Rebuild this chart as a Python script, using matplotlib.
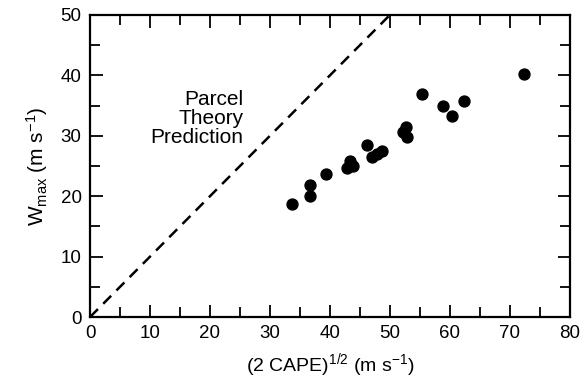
import numpy as np
import matplotlib
matplotlib.use("Agg")
import matplotlib.pyplot as plt
from matplotlib.ticker import MultipleLocator

plt.rcParams['font.family'] = ['Liberation Sans', 'DejaVu Sans']
plt.rcParams['mathtext.default'] = 'regular'

# data
cape_speed = [72.4, 55.4, 58.8, 60.3, 62.3, 52.6, 52.2, 52.9, 46.1, 47.0,
              47.8, 48.7, 43.4, 43.9, 42.8, 39.4, 36.7, 36.7, 33.7]
w_max = [40.2, 36.9, 35.0, 33.3, 35.8, 31.4, 30.7, 29.8, 28.4, 26.5,
         26.9, 27.5, 25.8, 25.0, 24.6, 23.7, 21.9, 20.1, 18.7]
parcel_line = [0, 50]

fig = plt.figure(figsize=(5.86, 3.82), dpi=100)
ax = fig.add_axes([0.1536, 0.170, 0.819, 0.791])

ax.plot(parcel_line, parcel_line, 'k--', linewidth=1.8, dashes=(4.5, 3))
ax.scatter(cape_speed, w_max, s=62, color='black', zorder=3)

ax.text(25.6, 32.9, 'Parcel\nTheory\nPrediction', ha='right', va='center',
        multialignment='right', fontsize=15, linespacing=1.0)

ax.set_xlim(0, 80)
ax.set_ylim(0, 50)
ax.xaxis.set_major_locator(MultipleLocator(10))
ax.xaxis.set_minor_locator(MultipleLocator(5))
ax.yaxis.set_major_locator(MultipleLocator(10))
ax.yaxis.set_minor_locator(MultipleLocator(5))
ax.tick_params(which='both', direction='in', top=True, right=True, labelsize=13.5, width=1.3)
ax.tick_params(which='major', length=9, pad=6)
ax.tick_params(which='minor', length=7)
for sp in ax.spines.values():
    sp.set_linewidth(1.6)

ax.set_xlabel('(2 CAPE)$^{1/2}$ (m s$^{-1}$)', fontsize=14, labelpad=6)
ax.set_ylabel('W$_{max}$ (m s$^{-1}$)', fontsize=15, labelpad=8)

fig.savefig('out.png', dpi=100)
